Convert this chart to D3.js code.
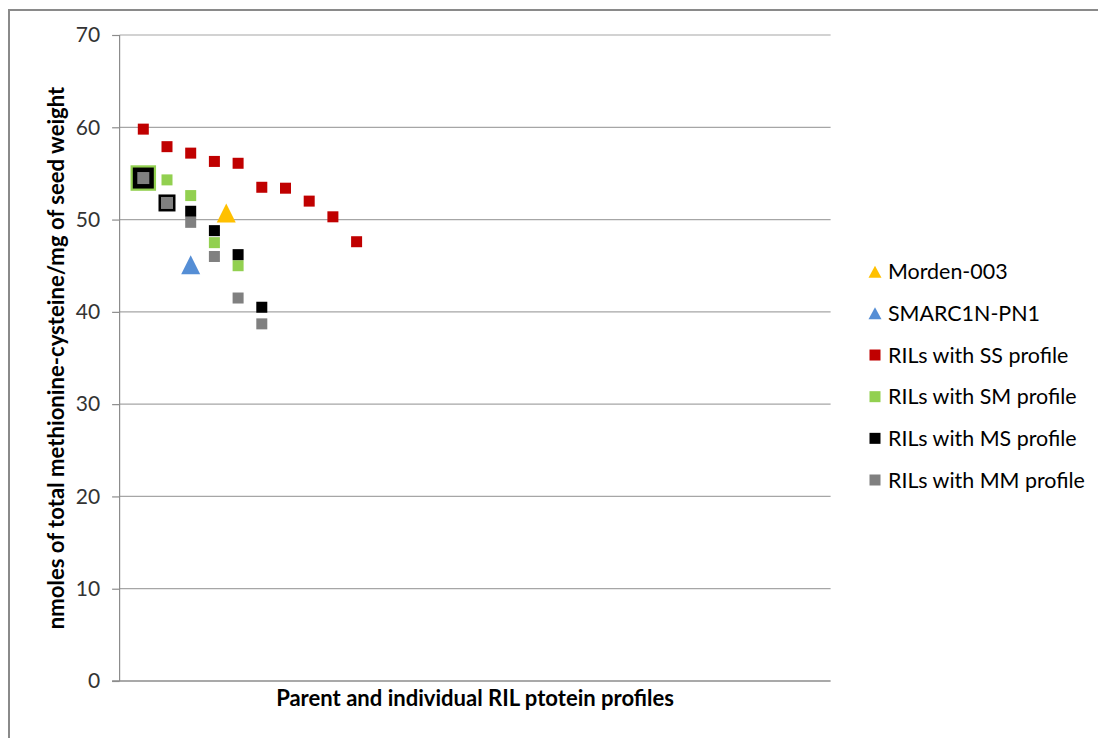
<!DOCTYPE html>
<html>
<head>
<meta charset="utf-8">
<script src="https://cdn.jsdelivr.net/npm/d3@7"></script>
<style>
  html, body { margin: 0; padding: 0; background: #fff; }
  svg { display: block; }
</style>
</head>
<body>
<svg id="chart" width="1098" height="738"></svg>
<script>
// ---- data ----
const yTicks = [0, 10, 20, 30, 40, 50, 60, 70];
const ssValues = [59.8, 57.9, 57.2, 56.3, 56.1, 53.5, 53.4, 52.0, 50.3, 47.6];
const smValues = [54.5, 54.3, 52.6, 47.5, 45.0];
const msValues = [54.5, 51.8, 50.9, 48.8, 46.2, 40.5];
const mmValues = [54.5, 51.8, 49.7, 46.0, 41.5, 38.7];
const parentNames = ["Morden-003", "SMARC1N-PN1"];
const parentX = [4.5, 3];
const parentY = [50.7, 45.1];
const legendLabels = ["Morden-003", "SMARC1N-PN1", "RILs with SS profile",
  "RILs with SM profile", "RILs with MS profile", "RILs with MM profile"];
const yTitle = "nmoles of total methionine-cysteine/mg of seed weight";
const xTitle = "Parent and individual RIL ptotein profiles";

// ---- styles ----
const colors = { morden: "#FFC000", smarc: "#558ED5", ss: "#C00000", sm: "#92D050", ms: "#000000", mm: "#808080" };
const FONT = "Lato, 'Open Sans', 'DejaVu Sans', sans-serif";

const svg = d3.select("#chart");
svg.append("rect").attr("x", 9).attr("y", 10).attr("width", 1100).attr("height", 740)
  .attr("fill", "#fff").attr("stroke", "#8a8a8a").attr("stroke-width", 2);

const pLeft = 119.6, pRight = 830.6, pTop = 35, pBottom = 681;
const x = d3.scaleLinear().domain([0, 30]).range([pLeft, pRight]);
const y = d3.scaleLinear().domain([0, 70]).range([pBottom, pTop]);

// gridlines
svg.append("g").selectAll("line").data(yTicks.filter(t => t > 0)).join("line")
  .attr("x1", pLeft).attr("x2", pRight)
  .attr("y1", d => y(d)).attr("y2", d => y(d))
  .attr("stroke", "#a6a6a6").attr("stroke-width", 1.2);

// y axis
const yAxis = d3.axisLeft(y).tickValues(yTicks).tickSize(7.5).tickPadding(12).tickFormat(d3.format("d"));
const gy = svg.append("g").attr("transform", `translate(${pLeft},0)`).call(yAxis);
gy.select(".domain").attr("stroke", "#8c8c8c").attr("stroke-width", 1.2).attr("d", `M0,${pTop}V${pBottom}`);
gy.selectAll(".tick line").attr("stroke", "#8c8c8c").attr("stroke-width", 1.2);
gy.selectAll(".tick text").attr("font-family", FONT).attr("font-size", 21).attr("fill", "#333");

// x axis line
const xAxis = d3.axisBottom(x).tickValues([]).tickSizeOuter(0);
const gx = svg.append("g").attr("transform", `translate(0,${pBottom})`).call(xAxis);
gx.select(".domain").attr("stroke", "#8c8c8c").attr("stroke-width", 1.6).attr("d", `M${pLeft - 7.5},0H${pRight}`);

// fit helper
function fitWidth(sel, target) {
  const w = sel.node().getComputedTextLength();
  const fs = parseFloat(sel.attr("font-size"));
  sel.attr("font-size", fs * target / w);
}

// axis titles
const yt = svg.append("text").attr("transform", `translate(56,${(pTop + pBottom) / 2}) rotate(-90)`)
  .attr("text-anchor", "middle").attr("dy", "0.35em")
  .attr("font-family", FONT).attr("font-weight", "bold").attr("font-size", 18).attr("fill", "#000")
  .text(yTitle);
fitWidth(yt, 543);
const xt = svg.append("text").attr("x", (pLeft + pRight) / 2).attr("y", 706)
  .attr("text-anchor", "middle")
  .attr("font-family", FONT).attr("font-weight", "bold").attr("font-size", 18).attr("fill", "#000")
  .text(xTitle);
fitWidth(xt, 398);

// markers
function squares(values, color, sizeFn) {
  svg.append("g").selectAll("rect").data(values).join("rect")
    .attr("x", (d, i) => x(i + 1) - sizeFn(i) / 2)
    .attr("y", (d, i) => y(d) - sizeFn(i) / 2)
    .attr("width", (d, i) => sizeFn(i)).attr("height", (d, i) => sizeFn(i))
    .attr("fill", color);
}
function triPath(cx, cy, w, h) {
  return `M${cx},${cy - h / 2}L${cx + w / 2},${cy + h / 2}L${cx - w / 2},${cy + h / 2}Z`;
}

squares(ssValues, colors.ss, () => 11);
squares(smValues, colors.sm, i => i === 0 ? 25.5 : 11);
squares(msValues, colors.ms, i => i === 0 ? 21 : (i === 1 ? 17 : 11));
squares(mmValues, colors.mm, i => i < 2 ? 12 : 11);

const parentColors = [colors.morden, colors.smarc];
svg.append("g").selectAll("path").data(parentY).join("path")
  .attr("d", (d, i) => triPath(x(parentX[i]), y(d), 19, 19))
  .attr("fill", (d, i) => parentColors[i]);

// legend
const legendColors = [colors.morden, colors.smarc, colors.ss, colors.sm, colors.ms, colors.mm];
const lg = svg.append("g");
const rowY = i => 271.7 + i * 41.66;
const items = lg.selectAll("g").data(legendLabels).join("g")
  .attr("transform", (d, i) => `translate(0,${rowY(i)})`);
items.each(function (d, i) {
  const g = d3.select(this);
  if (i < 2) {
    g.append("path").attr("d", triPath(875, 0, 13, 12)).attr("fill", legendColors[i]);
  } else {
    g.append("rect").attr("x", 869.5).attr("y", -5.5).attr("width", 11).attr("height", 11).attr("fill", legendColors[i]);
  }
});
const ltexts = items.append("text").attr("x", 888).attr("dy", "0.35em")
  .attr("font-family", FONT).attr("font-size", 20).attr("fill", "#000")
  .text(d => d);
const longest = ltexts.filter((d, i) => i === 5);
const w0 = longest.node().getComputedTextLength();
ltexts.attr("font-size", 20 * 197 / w0);
</script>
</body>
</html>
